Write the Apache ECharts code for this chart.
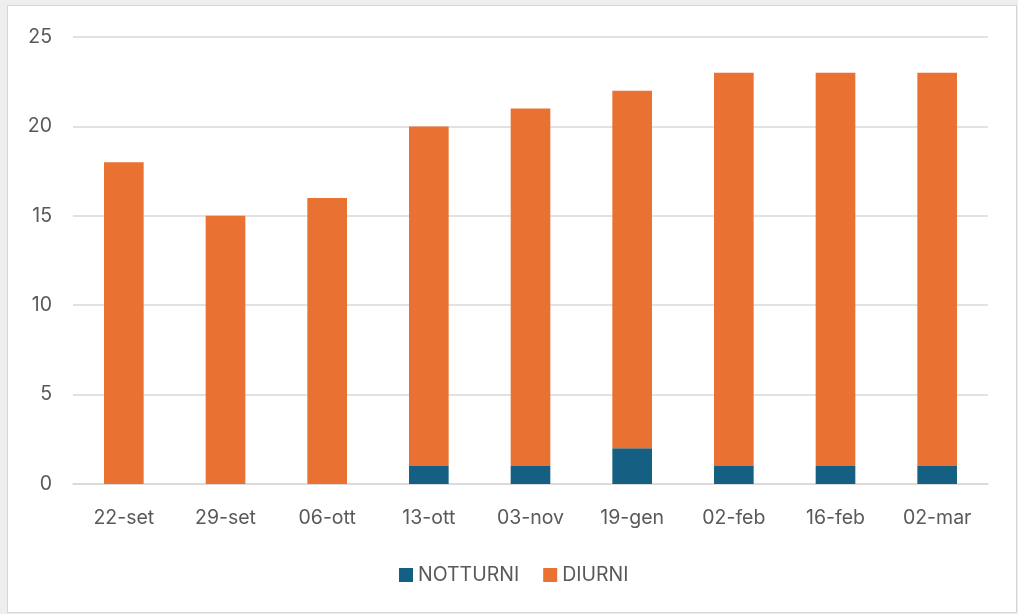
<!DOCTYPE html>
<html>
<head>
<meta charset="utf-8">
<script src="https://cdn.jsdelivr.net/npm/echarts@6/dist/echarts.min.js"></script>
<style>
html,body{margin:0;padding:0;background:#eeeeee;width:1018px;height:614px;overflow:hidden;}
#panel{position:absolute;left:7px;top:5px;width:1008px;height:606px;background:#fff;border:1px solid #d6d6d6;}
#chart{position:absolute;left:0;top:0;width:1018px;height:614px;}
</style>
</head>
<body>
<div id="panel"></div>
<div id="chart"></div>
<script>
const categories = ['22-set','29-set','06-ott','13-ott','03-nov','19-gen','02-feb','16-feb','02-mar'];
const notturni = [0,0,0,1,1,2,1,1,1];
const diurni = [18,15,16,19,20,20,22,22,22];
const seriesNames = ['NOTTURNI','DIURNI'];
const yTicks = {min:0,max:25,interval:5};

const FONT = 'Inter, "DejaVu Sans", sans-serif';
const chart = echarts.init(document.getElementById('chart'), null, {renderer:'canvas'});
chart.setOption({
  backgroundColor: 'transparent',
  animation: false,
  textStyle: {fontFamily: FONT},
  grid: {left:73, right:30, top:37, bottom:130, containLabel:false},
  legend: {
    data: seriesNames,
    top: 560,
    left: 394,
    icon: 'rect',
    itemWidth: 14,
    itemHeight: 14,
    itemGap: 24,
    textStyle: {color:'#595959', fontSize:19.5, fontFamily: FONT}
  },
  xAxis: {
    type: 'category',
    data: categories,
    axisLine: {show:true, lineStyle:{color:'#d9d9d9', width:1.5}},
    axisTick: {show:false},
    axisLabel: {color:'#595959', fontSize:19.5, margin:24, fontFamily: FONT}
  },
  yAxis: {
    type: 'value',
    min: yTicks.min, max: yTicks.max, interval: yTicks.interval,
    axisLine: {show:false},
    axisTick: {show:false},
    splitLine: {lineStyle:{color:'#d9d9d9', width:1.5}},
    axisLabel: {color:'#595959', fontSize:19.5, margin:21, fontFamily: FONT}
  },
  series: [
    {name: seriesNames[0], type:'bar', stack:'tot', data: notturni, barWidth:'39%', itemStyle:{color:'#156082'}},
    {name: seriesNames[1], type:'bar', stack:'tot', data: diurni, barWidth:'39%', itemStyle:{color:'#E97132'}}
  ]
});
</script>
</body>
</html>
